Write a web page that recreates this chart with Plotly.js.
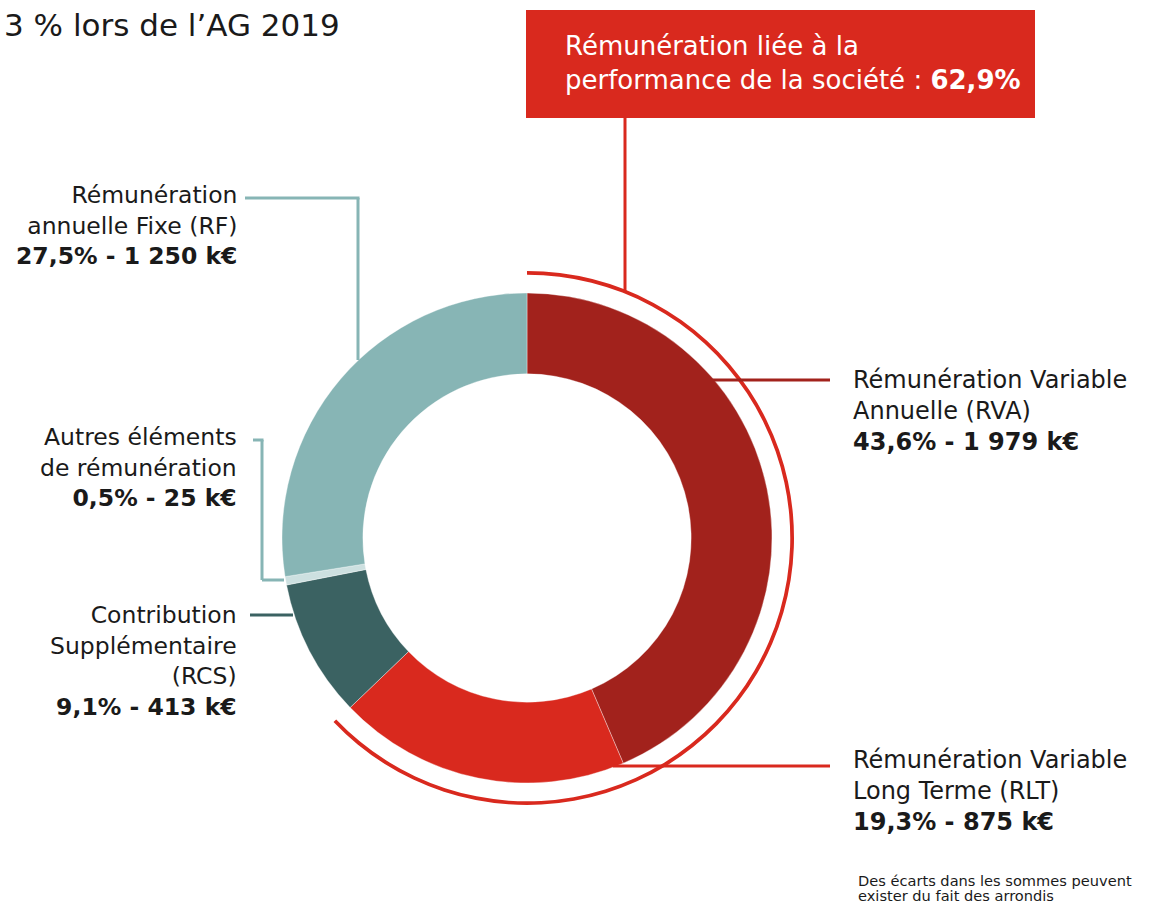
<!DOCTYPE html>
<html>
<head>
<meta charset="utf-8">
<script src="https://cdn.plot.ly/plotly-3.0.1.min.js"></script>
<style>
  html, body { margin: 0; padding: 0; background: #fff; }
  #plot { width: 1166px; height: 905px; }
</style>
</head>
<body>
<div id="plot"></div>
<script>
// composantes de la rémunération (k€)
var labels = ["RVA", "RLT", "RCS", "Autres", "RF"];
var valuesK = [1979, 875, 413, 25, 1250];
var percents = ["43,6%", "19,3%", "9,1%", "0,5%", "27,5%"];
var colors = ["#a2221c", "#d9291e", "#3b6262", "#cde0e0", "#87b5b5"];

// part liée à la performance (RVA + RLT)
var perfShare = [62.9, 37.1];

var W = 1166, H = 905;
function px(x) { return x / W; }
function py(y) { return 1 - y / H; }

// donut centre (527, 538), rayon 245
var donut = {
  type: "pie",
  values: valuesK,
  labels: labels,
  marker: { colors: colors, line: { color: "rgba(255,255,255,0.6)", width: 0.6 } },
  sort: false,
  direction: "clockwise",
  rotation: 0,
  hole: 0.67,
  textinfo: "none",
  hoverinfo: "none",
  domain: { x: [px(282), px(772)], y: [py(783), py(293)] }
};

var ring = {
  type: "pie",
  values: perfShare,
  labels: ["perf", "reste"],
  marker: { colors: ["#d9291e", "rgba(0,0,0,0)"], line: { width: 0 } },
  sort: false,
  direction: "clockwise",
  rotation: 0,
  hole: 0.986,
  textinfo: "none",
  hoverinfo: "none",
  domain: { x: [px(527 - 267), px(527 + 267)], y: [py(538 + 267), py(538 - 267)] }
};

function seg(x0, y0, x1, y1, c) {
  return { type: "line", xref: "paper", yref: "paper",
    x0: px(x0), y0: py(y0), x1: px(x1), y1: py(y1),
    line: { color: c, width: 3 }, layer: "above" };
}

var shapes = [
  { type: "rect", xref: "paper", yref: "paper",
    x0: px(526), x1: px(1035), y0: py(118), y1: py(10),
    fillcolor: "#d9291e", line: { width: 0 }, layer: "below" },
  seg(625, 118, 625, 292, "#d9291e"),
  // RF
  seg(245, 198, 359.5, 198, colors[4]),
  seg(358, 198, 358, 360, colors[4]),
  // Autres
  seg(253, 440, 263.5, 440, colors[4]),
  seg(262, 440, 262, 580, colors[4]),
  seg(262, 580, 284, 580, colors[4]),
  // RCS
  seg(250, 615, 293, 615, colors[2]),
  // RVA
  seg(712, 380, 830, 380, colors[0]),
  // RLT
  seg(613, 766, 830, 766, colors[1])
];

var txt = "#1a1a1a";
var F = "DejaVu Sans, Verdana, sans-serif";
function note(x, y, text, anchor, size, color) {
  return { xref: "paper", yref: "paper", x: px(x), y: py(y), text: text,
    showarrow: false, xanchor: anchor, yanchor: "middle", align: anchor,
    font: { family: F, size: size, color: color || txt } };
}

var annotations = [
  note(342, 25, "3 % lors de l’AG 2019", "right", 31),
  note(563, 63, "Rémunération liée à la<br>performance de la société : <b>62,9%</b>", "left", 26),
  note(239, 226, "Rémunération<br>annuelle Fixe (RF)<br><b>" + percents[4] + " - 1 250 k€</b>", "right", 23.5),
  note(239, 468, "Autres éléments<br>de rémunération<br><b>" + percents[3] + " - " + valuesK[3] + " k€</b>", "right", 23.5),
  note(239, 661, "Contribution<br>Supplémentaire<br>(RCS)<br><b>" + percents[2] + " - " + valuesK[2] + " k€</b>", "right", 23.5),
  note(851, 411, "Rémunération Variable<br>Annuelle (RVA)<br><b>" + percents[0] + " - 1 979 k€</b>", "left", 24),
  note(851, 791, "Rémunération Variable<br>Long Terme (RLT)<br><b>" + percents[1] + " - " + valuesK[1] + " k€</b>", "left", 24),
  note(856, 880, "Des écarts dans les sommes peuvent", "left", 14.6),
  note(856, 895, "exister du fait des arrondis", "left", 14.6)
];
annotations[1].font.color = "#ffffff";

var layout = {
  width: W, height: H,
  margin: { l: 0, r: 0, t: 0, b: 0 },
  paper_bgcolor: "#ffffff",
  showlegend: false,
  shapes: shapes,
  annotations: annotations
};

Plotly.newPlot("plot", [donut, ring], layout, { displayModeBar: false, staticPlot: true });
</script>
</body>
</html>
